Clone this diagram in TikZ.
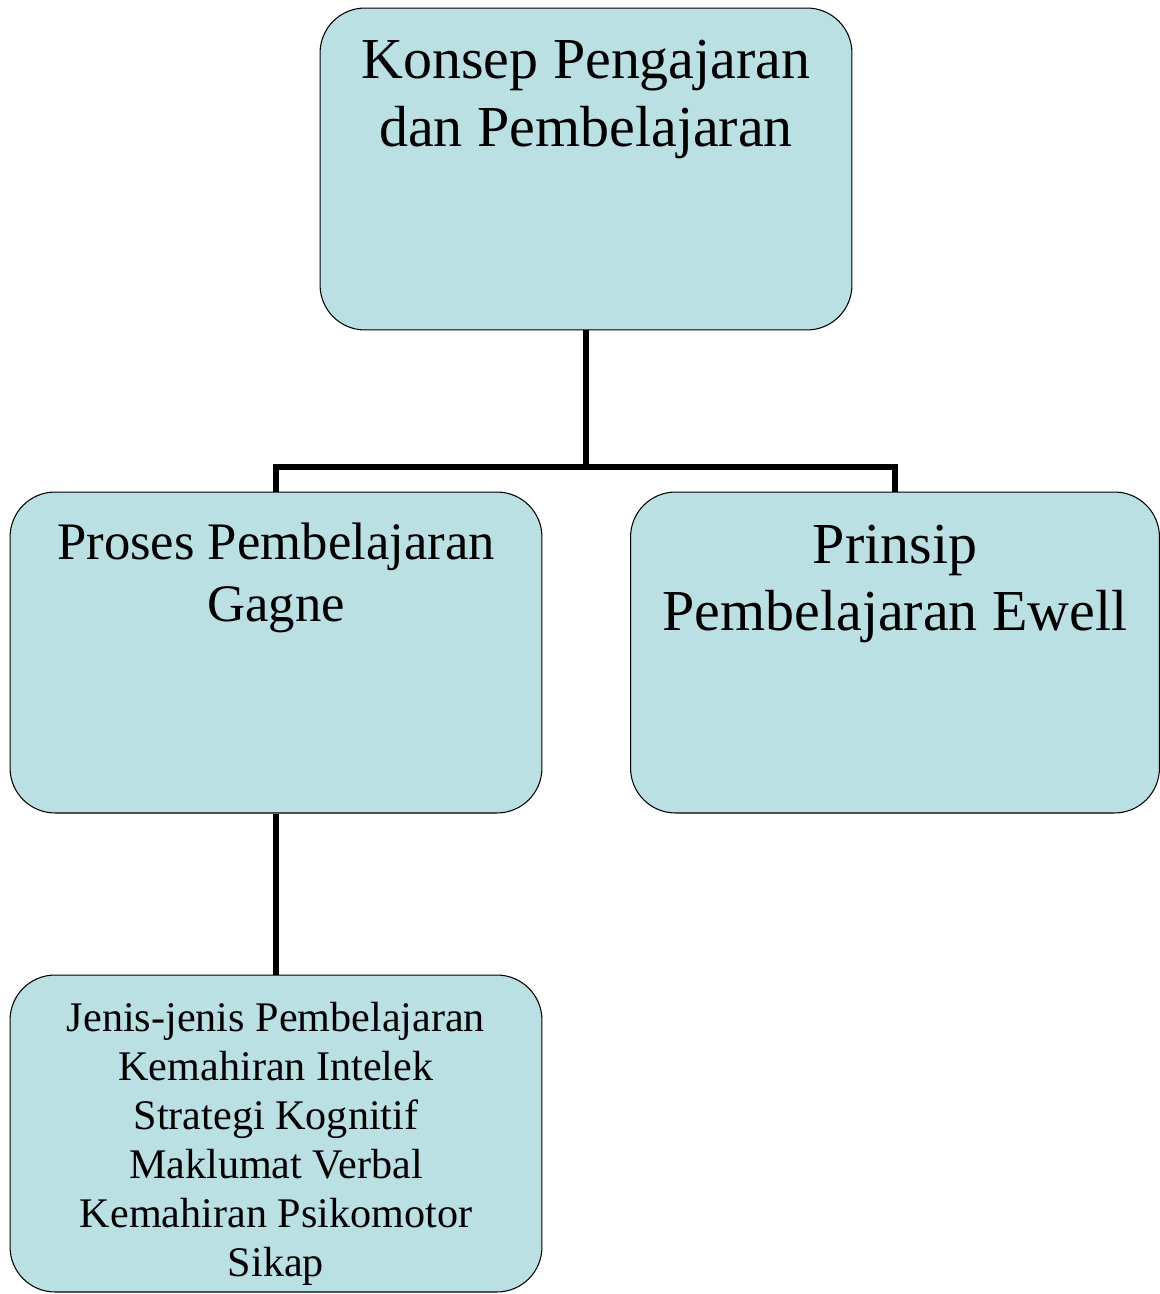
\documentclass[tikz,border=0pt]{standalone}
\usepackage{fontspec}
\setmainfont{Liberation Serif}
\usetikzlibrary{positioning}
\definecolor{boxfill}{HTML}{BAE0E3}

\begin{document}
\begin{tikzpicture}[x=0.02cm, y=-0.02cm,
    topic/.style = {draw, fill=boxfill, line width=0.6pt, rounded corners=0.9cm},
    caption/.style = {anchor=north, align=center, inner sep=0pt},
    link/.style = {line width=2.9pt}]
    \useasboundingbox (0,0) rectangle (1159,1294);
    % boxes
    \node[topic, minimum width=10.64cm, minimum height=6.44cm] (konsep) at (586,169) {};
    \node[topic, minimum width=10.64cm, minimum height=6.42cm] (proses) at (276,652.5) {};
    \node[topic, minimum width=10.58cm, minimum height=6.42cm] (prinsip) at (895,652.5) {};
    \node[topic, minimum width=10.64cm, minimum height=6.34cm] (jenis) at (276,1133.5) {};
    % texts
    \node[caption, font=\fontsize{33}{39}\selectfont, below=0.64cm of konsep.north]
        (konsep-text) {Konsep Pengajaran\\dan Pembelajaran};
    \node[caption, font=\fontsize{30}{35.3}\selectfont, below=0.62cm of proses.north]
        (proses-text) {Proses Pembelajaran\\Gagne};
    \node[caption, font=\fontsize{33}{38.1}\selectfont, below=0.66cm of prinsip.north]
        (prinsip-text) {Prinsip\\Pembelajaran Ewell};
    \node[caption, font=\fontsize{24}{27.9}\selectfont, below=0.54cm of jenis.north]
        (jenis-text) {Jenis-jenis Pembelajaran\\Kemahiran Intelek\\Strategi Kognitif\\
        Maklumat Verbal\\Kemahiran Psikomotor\\Sikap};
    % connectors
    \coordinate (fork) at (586,467);
    \draw[link] (konsep.south) -- (fork) -| (proses.north);
    \draw[link] (fork) -| (prinsip.north);
    \draw[link] (proses.south) -- (jenis.north);
\end{tikzpicture}
\end{document}
